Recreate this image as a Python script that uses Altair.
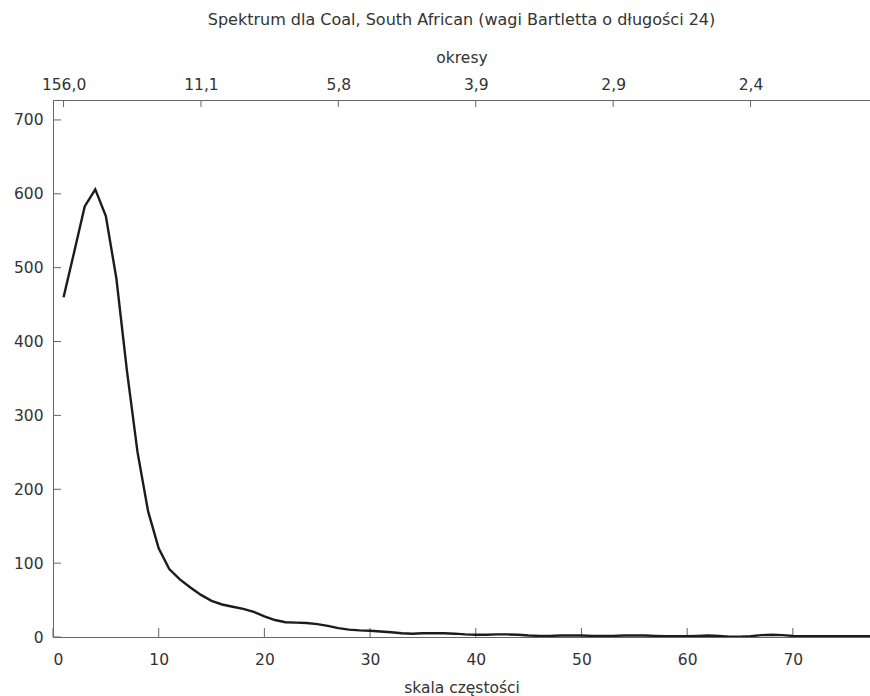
import altair as alt
import pandas as pd

# ---- data ----
freq = list(range(1, 79))
spectrum = [460, 521, 583, 606, 570, 485, 360, 250, 170, 120,
            92, 78, 67, 57, 49, 44, 41, 38, 34, 28,
            23, 20, 19.5, 19, 17.5, 15, 12, 10, 9, 8.5,
            7.5, 6.5, 5, 4.5, 5, 5, 5, 4.5, 3.5, 3,
            3, 3.5, 3.5, 3, 2, 1.5, 1.5, 2, 2, 2,
            1.5, 1.5, 1.5, 2, 2, 2, 1.5, 1, 1, 1,
            1.5, 2, 1.5, 0.5, 0.5, 1, 2.5, 3, 2.5, 1.5,
            1, 1, 1, 1, 1, 1, 1, 1]
x_ticks = [0, 10, 20, 30, 40, 50, 60, 70]
y_ticks = [0, 100, 200, 300, 400, 500, 600, 700]
top_ticks = [1, 14, 27, 40, 53, 66]
top_labels = ["156,0", "11,1", "5,8", "3,9", "2,9", "2,4"]

title_text = "Spektrum dla Coal, South African (wagi Bartletta o długości 24)"
x_title = "skala częstości"
top_title = "okresy"

W, H = 817, 537
FONT = "DejaVu Sans"
FS = 15.5
TXT = "#333333"
AX = "#666666"

df = pd.DataFrame({"k": freq[:len(spectrum)], "s": spectrum})
df_top = pd.DataFrame({"k": top_ticks})
df_xt = pd.DataFrame({"k": x_ticks})
df_yt = pd.DataFrame({"v": y_ticks})

xs = alt.Scale(domain=[0, 77.3], nice=False, zero=False)
ys = alt.Scale(domain=[0, 727], nice=False)

label_expr = " : ".join(
    f"datum.value == {t} ? '{l}'" for t, l in zip(top_ticks, top_labels)
) + " : ''"

x_axis = alt.Axis(
    orient="bottom", values=x_ticks, title=x_title, ticks=False, grid=False,
    labelPadding=15, titlePadding=13, domainColor=AX, labelColor=TXT, titleColor=TXT,
    labelFont=FONT, titleFont=FONT, labelFontSize=FS, titleFontSize=FS,
    titleFontWeight="normal", format="d")
y_axis = alt.Axis(
    values=y_ticks, title=None, ticks=False, grid=False, labelPadding=10,
    domainColor=AX, labelColor=TXT, labelFont=FONT, labelFontSize=FS, format="d")

line = alt.Chart(df).mark_line(color="#1c1c1c", strokeWidth=2.4, clip=True).encode(
    x=alt.X("k:Q", scale=xs, axis=x_axis),
    y=alt.Y("s:Q", scale=ys, axis=y_axis),
)

top = alt.Chart(df_top).mark_rule(color=AX, strokeWidth=1).encode(
    x=alt.X("k:Q", scale=xs, axis=alt.Axis(
        orient="top", values=top_ticks, labelExpr=label_expr, title=top_title,
        ticks=False, grid=False, labelPadding=8, titlePadding=12,
        domainColor=AX, labelColor=TXT, titleColor=TXT, labelFont=FONT, titleFont=FONT,
        labelFontSize=FS, titleFontSize=FS, titleFontWeight="normal")),
    y=alt.value(0), y2=alt.value(7),
)

xticks = alt.Chart(df_xt).mark_rule(color=AX, strokeWidth=1).encode(
    x=alt.X("k:Q", scale=xs, axis=None),
    y=alt.value(H), y2=alt.value(H - 9),
)

yticks = alt.Chart(df_yt).mark_rule(color=AX, strokeWidth=1).encode(
    y=alt.Y("v:Q", scale=ys, axis=y_axis),
    x=alt.value(0), x2=alt.value(8),
)

chart = alt.layer(xticks, yticks, top, line).resolve_axis(x="independent").properties(
    width=W, height=H,
    autosize="none",
    padding={"left": 53, "top": 100, "right": 0, "bottom": 59},
    title=alt.TitleParams(title_text, font=FONT, fontSize=16, fontWeight="normal",
                          color=TXT, offset=22, anchor="middle"),
).configure_view(stroke=None).configure(background="white")

chart.save("out.html", embed_options={"renderer": "svg", "actions": False})
